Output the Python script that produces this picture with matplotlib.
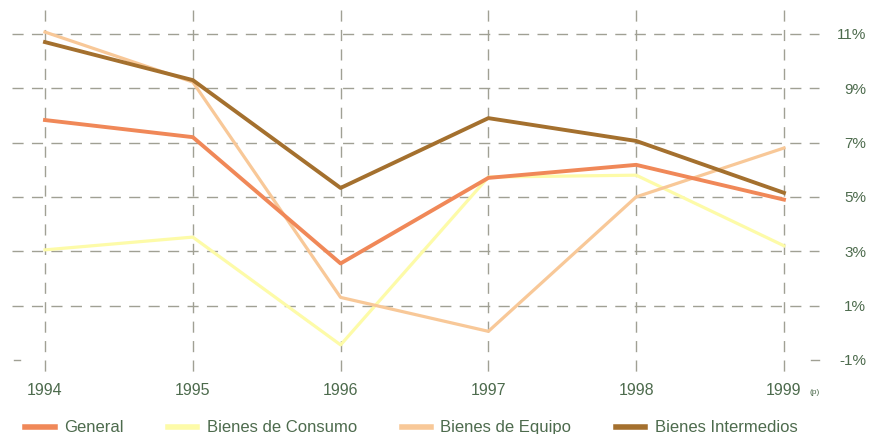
import matplotlib.pyplot as plt

plt.rcParams['font.family'] = ['Liberation Sans', 'DejaVu Sans']

years = ['1994', '1995', '1996', '1997', '1998', '1999']
general = [7.83, 7.2, 2.55, 5.7, 6.18, 4.9]
consumo = [3.05, 3.52, -0.45, 5.73, 5.8, 3.2]
equipo = [11.07, 9.23, 1.3, 0.05, 5.0, 6.8]
intermedios = [10.7, 9.3, 5.33, 7.9, 7.06, 5.15]
yticks = [11, 9, 7, 5, 3, 1, -1]

text_col = '#4d6b4d'
grid_col = '#a0a094'

fig = plt.figure(figsize=(8.71, 4.34), dpi=100)
ax = fig.add_axes([0, 0, 1, 1])
ax.set_xlim(-0.3045, 5.589)
ax.set_ylim(-3.73, 12.25)
ax.axis('off')

x = list(range(len(years)))

# grid
for v in yticks[:-1]:
    ax.plot([-0.223, 5.24], [v, v], color=grid_col, lw=1, dashes=(8, 6), zorder=1)
ax.plot([-0.21, -0.17], [-1, -1], color=grid_col, lw=1, zorder=1)
ax.plot([5.18, 5.24], [-1, -1], color=grid_col, lw=1, zorder=1)
for i in x:
    ax.plot([i, i], [11.9, -1.45], color=grid_col, lw=1, dashes=(8, 6), zorder=1)

ax.plot(x, consumo, color='#fdfba8', lw=2.3, label='Bienes de Consumo', zorder=2)
ax.plot(x, equipo, color='#f8c898', lw=2.3, label='Bienes de Equipo', zorder=3)
ax.plot(x, general, color='#f08858', lw=2.8, label='General', zorder=4)
ax.plot(x, intermedios, color='#a4702e', lw=2.8, label='Bienes Intermedios', zorder=5)

for i, yr in enumerate(years):
    ax.text(i, -2.12, yr, ha='center', va='center', fontsize=11.5, color=text_col)
ax.text(5.21, -2.2, '(p)', ha='center', va='center', fontsize=6, color=text_col)

for v in yticks:
    ax.text(5.555, v - 0.05, f'{v}%', ha='right', va='center', fontsize=11, color=text_col)

h, l = ax.get_legend_handles_labels()
order = [2, 0, 1, 3]
leg = ax.legend([h[k] for k in order], [l[k] for k in order], ncol=4,
                loc='lower left', bbox_to_anchor=(0.012, -0.038), frameon=False,
                fontsize=12, handlelength=1.75, handletextpad=0.55, columnspacing=2.7,
                labelcolor=text_col)
for ln in leg.get_lines():
    ln.set_linewidth(4)

fig.savefig('out.png', dpi=100)
